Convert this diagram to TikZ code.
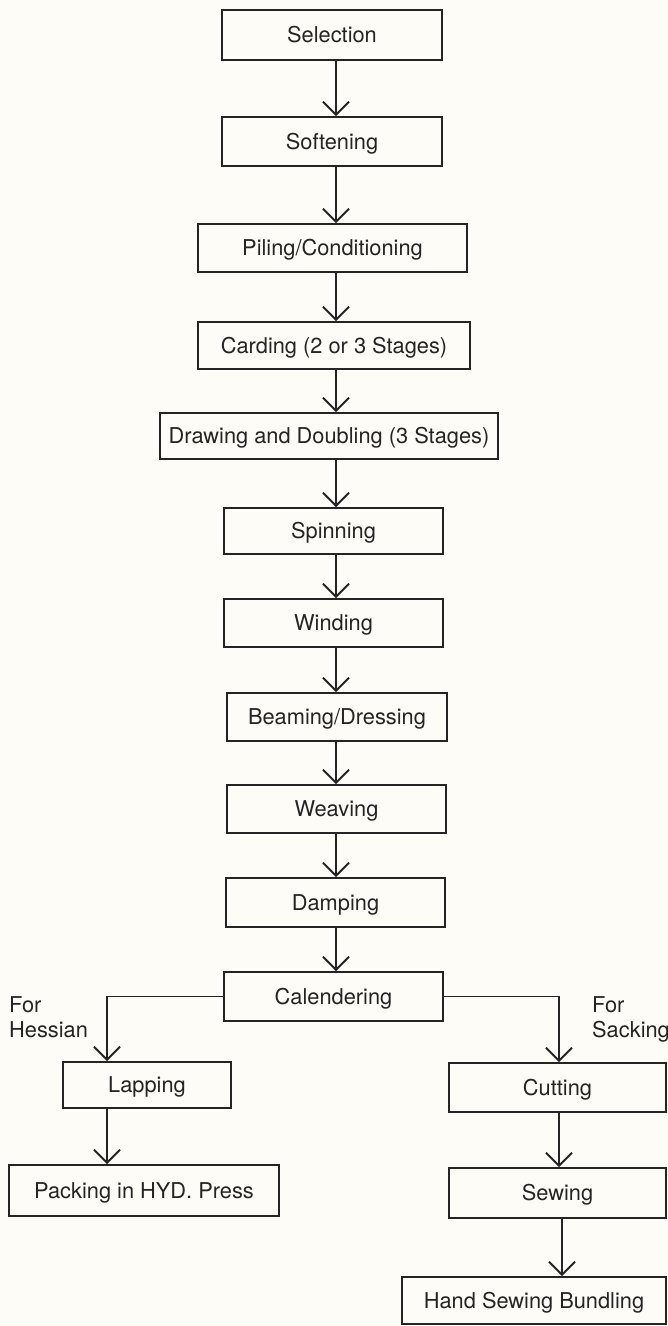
\documentclass[tikz,border=0pt]{standalone}
\usepackage{fontspec}
\setmainfont{TeX Gyre Heros}
\usetikzlibrary{arrows.meta}
\definecolor{paper}{RGB}{253,252,246}
\definecolor{ink}{RGB}{36,36,36}
\begin{document}
\begin{tikzpicture}[x=1pt,y=-1pt,
  stepbox/.style={draw=ink, line width=1.9pt, fill=paper, text=ink, inner sep=0pt,
    text height=15.5pt, text depth=0pt, font=\fontsize{21.8}{26}\selectfont},
  flow/.style={draw=ink, line width=1.9pt,
    -{Straight Barb[length=13pt,width=26pt,line width=1.9pt]}},
  note/.style={text=ink, anchor=base west, inner sep=0pt, font=\fontsize{21.8}{26}\selectfont}]
% page
\fill[paper] (0,0) rectangle (668,1326);
\useasboundingbox (0,0) rectangle (668,1326);

% main column
\node[stepbox, minimum width=220pt, minimum height=50pt] (sel)   at (332,35)     {Selection};
\node[stepbox, minimum width=220pt, minimum height=49pt] (soft)  at (332,141.5)  {Softening};
\node[stepbox, minimum width=269pt, minimum height=48pt] (pile)  at (332.5,248)  {Piling/Conditioning};
\node[stepbox, minimum width=272pt, minimum height=47pt] (card)  at (334,345.5)  {Carding (2 or 3 Stages)};
\node[stepbox, minimum width=338pt, minimum height=46pt] (drw)   at (329,436)    {Drawing and Doubling (3 Stages)};
\node[stepbox, minimum width=219pt, minimum height=46pt] (spin)  at (333.5,531)  {Spinning};
\node[stepbox, minimum width=219pt, minimum height=48pt] (wind)  at (333.5,623)  {Winding};
\node[stepbox, minimum width=220pt, minimum height=48pt] (beam)  at (337,717)    {Beaming/Dressing};
\node[stepbox, minimum width=219pt, minimum height=48pt] (weave) at (336.5,809)  {Weaving};
\node[stepbox, minimum width=219pt, minimum height=49pt] (damp)  at (335.5,902.5){Damping};
\node[stepbox, minimum width=219pt, minimum height=49pt] (cal)   at (333.5,996.5){Calendering};

% hessian branch
\node[stepbox, minimum width=168pt, minimum height=46pt] (lap)   at (147,1085)   {Lapping};
\node[stepbox, minimum width=270pt, minimum height=51pt] (pack)  at (144,1190.5) {Packing in HYD. Press};

% sacking branch
\node[stepbox, minimum width=217pt, minimum height=49pt] (cut)   at (557.5,1087.5){Cutting};
\node[stepbox, minimum width=217pt, minimum height=50pt] (sew)   at (557.5,1193)  {Sewing};
\node[stepbox, minimum width=264pt, minimum height=47pt] (hand)  at (534,1300.5)  {Hand Sewing Bundling};

% branch labels
\node[note] (for1) at (9,1012)   {For};
\node[note] (hes)  at (9,1037)   {Hessian};
\node[note] (for2) at (592,1012) {For};
\node[note] (sack) at (592,1037) {Sacking};

% connector columns
\coordinate (mainaxis) at (336,0);
\coordinate (leftaxis) at (107,0);
\coordinate (rightaxis) at (559,0);
\coordinate (rightaxisb) at (562,0);

\foreach \a/\b in {sel/soft, soft/pile, pile/card, card/drw, drw/spin, spin/wind,
                   wind/beam, beam/weave, weave/damp, damp/cal}
  \draw[flow] (\a.south -| mainaxis) -- (\b.north -| mainaxis);

\draw[flow] (cal.west) -| (lap.north -| leftaxis);
\draw[flow] (cal.east) -| (cut.north -| rightaxis);
\draw[flow] (lap.south -| leftaxis) -- (pack.north -| leftaxis);
\draw[flow] (cut.south -| rightaxis) -- (sew.north -| rightaxis);
\draw[flow] (sew.south -| rightaxisb) -- (hand.north -| rightaxisb);
\end{tikzpicture}
\end{document}
